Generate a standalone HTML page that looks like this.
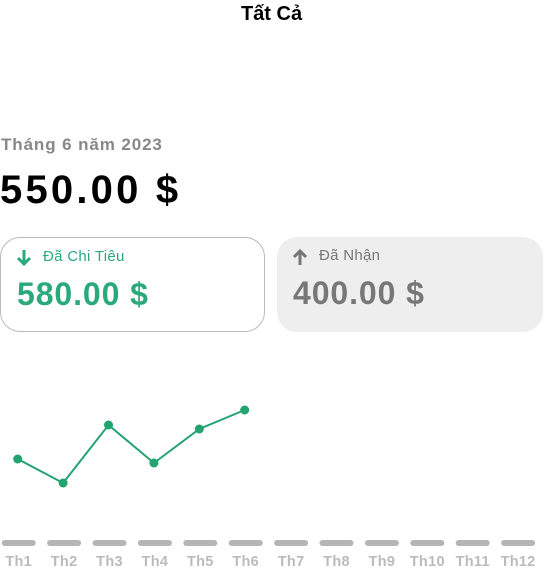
<!DOCTYPE html>
<html><head><meta charset="utf-8">
<style>
body{margin:0;width:543px;height:570px;background:#fff;font-family:"Liberation Sans",sans-serif;position:relative;overflow:hidden}
.abs{position:absolute}
</style></head><body>
<div class="abs" style="left:0;width:543px;top:3px;text-align:center;font-size:20px;font-weight:bold;color:#000">Tất Cả</div>
<div class="abs" style="left:1px;top:135px;font-size:17px;font-weight:bold;color:#888;letter-spacing:0.9px">Tháng 6 năm 2023</div>
<div class="abs" style="left:0;top:168px;font-size:40px;font-weight:bold;color:#000;letter-spacing:3.2px">550.00 $</div>
<div class="abs" style="left:0;top:237px;width:265px;height:95px;border:1px solid #bbb;border-radius:20px;box-sizing:border-box;background:#fff">
  <svg class="abs" style="left:14px;top:10px" width="18" height="20" viewBox="0 0 18 20"><path d="M9 2v14M3 10l6 6 6-6" stroke="#2aa97a" stroke-width="3" fill="none"/></svg>
  <div class="abs" style="left:42px;top:10px;font-size:15px;color:#2aa97a;letter-spacing:0.3px">Đã Chi Tiêu</div>
  <div class="abs" style="left:16px;top:38px;font-size:32px;font-weight:bold;color:#2aa97a;letter-spacing:0.9px">580.00 $</div>
</div>
<div class="abs" style="left:277px;top:237px;width:266px;height:95px;border-radius:20px;background:#eee">
  <svg class="abs" style="left:14px;top:10px" width="18" height="20" viewBox="0 0 18 20"><path d="M9 18V4M3 10l6-6 6 6" stroke="#777" stroke-width="3" fill="none"/></svg>
  <div class="abs" style="left:42px;top:10px;font-size:15px;color:#777;letter-spacing:0.3px">Đã Nhận</div>
  <div class="abs" style="left:16px;top:38px;font-size:32px;font-weight:bold;color:#777;letter-spacing:0.9px">400.00 $</div>
</div>
<svg id="chart" class="abs" style="left:0;top:0" width="543" height="570"></svg>
<script>
const months=["Th1","Th2","Th3","Th4","Th5","Th6","Th7","Th8","Th9","Th10","Th11","Th12"];
const values=[415,295,585,395,565,660];
const NS="http://www.w3.org/2000/svg";
const svg=document.getElementById('chart');
function xBar(i){return 18.7+45.4*i;}
function xPt(i){return xBar(i)-1;}
function yS(v){return 542-v/5;}
months.forEach((m,i)=>{
  const r=document.createElementNS(NS,'rect');
  r.setAttribute('x',xBar(i)-17);r.setAttribute('y',540);r.setAttribute('width',34);r.setAttribute('height',6);r.setAttribute('rx',3);r.setAttribute('fill','#b5b5b5');
  
  
  svg.appendChild(r);
  const t=document.createElementNS(NS,'text');
  t.setAttribute('x',xBar(i));t.setAttribute('y',566);t.setAttribute('text-anchor','middle');t.setAttribute('font-size','14.5');t.setAttribute('font-weight','bold');t.setAttribute('fill','#bbb');t.setAttribute('letter-spacing','0.3');t.setAttribute('font-family','Liberation Sans, sans-serif');
  t.textContent=m;
  
  
  svg.appendChild(t);
});
const pl=document.createElementNS(NS,'polyline');
pl.setAttribute('points',values.map((v,i)=>xPt(i)+','+yS(v)).join(' '));
pl.setAttribute('fill','none');pl.setAttribute('stroke','#22a370');pl.setAttribute('stroke-width','2');


svg.appendChild(pl);
values.forEach((v,i)=>{
  const c=document.createElementNS(NS,'circle');
  c.setAttribute('cx',xPt(i));c.setAttribute('cy',yS(v));c.setAttribute('r',4.5);c.setAttribute('fill','#22a370');
  
  
  svg.appendChild(c);
});
</script>
</body></html>
